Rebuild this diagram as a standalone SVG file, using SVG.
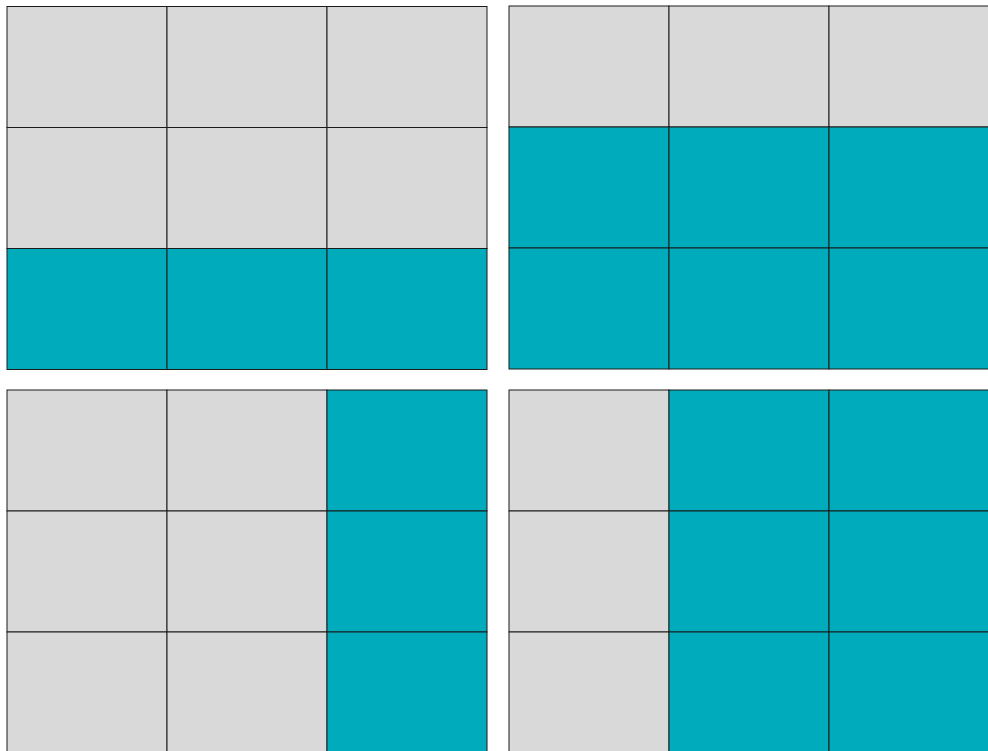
<svg xmlns="http://www.w3.org/2000/svg" width="988" height="751" viewBox="0 0 988 751">
<style>
.g{fill:#d9d9d9;stroke:#1a1a1a;stroke-width:1}
.t{fill:#00acbb;stroke:#1a1a1a;stroke-width:1}
</style>
<rect width="988" height="751" fill="#ffffff"/>
<g id="grid-top-left">
<rect class="g" x="7" y="6.5" width="160" height="121"/><rect class="g" x="167" y="6.5" width="160" height="121"/><rect class="g" x="327" y="6.5" width="160" height="121"/>
<rect class="g" x="7" y="127.5" width="160" height="121"/><rect class="g" x="167" y="127.5" width="160" height="121"/><rect class="g" x="327" y="127.5" width="160" height="121"/>
<rect class="t" x="7" y="248.5" width="160" height="121"/><rect class="t" x="167" y="248.5" width="160" height="121"/><rect class="t" x="327" y="248.5" width="160" height="121"/>
</g>
<g id="grid-top-right">
<rect class="g" x="509" y="6" width="160" height="121"/><rect class="g" x="669" y="6" width="160" height="121"/><rect class="g" x="829" y="6" width="160" height="121"/>
<rect class="t" x="509" y="127" width="160" height="121"/><rect class="t" x="669" y="127" width="160" height="121"/><rect class="t" x="829" y="127" width="160" height="121"/>
<rect class="t" x="509" y="248" width="160" height="121"/><rect class="t" x="669" y="248" width="160" height="121"/><rect class="t" x="829" y="248" width="160" height="121"/>
</g>
<g id="grid-bottom-left">
<rect class="g" x="7" y="390" width="160" height="121"/><rect class="g" x="167" y="390" width="160" height="121"/><rect class="t" x="327" y="390" width="160" height="121"/>
<rect class="g" x="7" y="511" width="160" height="121"/><rect class="g" x="167" y="511" width="160" height="121"/><rect class="t" x="327" y="511" width="160" height="121"/>
<rect class="g" x="7" y="632" width="160" height="121"/><rect class="g" x="167" y="632" width="160" height="121"/><rect class="t" x="327" y="632" width="160" height="121"/>
</g>
<g id="grid-bottom-right">
<rect class="g" x="509" y="390" width="160" height="121"/><rect class="t" x="669" y="390" width="160" height="121"/><rect class="t" x="829" y="390" width="160" height="121"/>
<rect class="g" x="509" y="511" width="160" height="121"/><rect class="t" x="669" y="511" width="160" height="121"/><rect class="t" x="829" y="511" width="160" height="121"/>
<rect class="g" x="509" y="632" width="160" height="121"/><rect class="t" x="669" y="632" width="160" height="121"/><rect class="t" x="829" y="632" width="160" height="121"/>
</g>
<g id="connectors"></g>
</svg>
